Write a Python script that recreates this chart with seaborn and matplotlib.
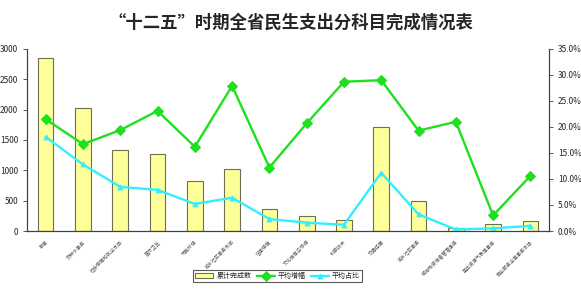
import numpy as np
import matplotlib
matplotlib.use("Agg")
import matplotlib.pyplot as plt
import seaborn as sns
from matplotlib.ticker import FuncFormatter, MultipleLocator

# 数据
categories = ["教育", "农林水事务", "社会保障和就业支出", "医疗卫生", "节能环保",
              "城乡社区事务支出", "住房保障", "文化体育与传媒", "科学技术",
              "交通运输", "城乡社区事务", "粮油物资储备管理事务",
              "国土资源气象等事务", "商业服务业等事务支出"]
completed = [2847, 2022, 1335, 1266, 830, 1022, 360, 248, 182, 1710, 495, 45, 110, 160]
avg_growth = [21.5, 16.7, 19.4, 23.1, 16.2, 27.9, 12.2, 20.7, 28.7, 29.0, 19.3, 21.0, 3.0, 10.6]
avg_share = [18.1, 12.8, 8.5, 7.9, 5.2, 6.4, 2.3, 1.6, 1.2, 11.2, 3.2, 0.3, 0.5, 1.0]

sns.set_style("white")
plt.rcParams["font.family"] = ["Noto Sans CJK SC", "DejaVu Sans"]

fig = plt.figure(figsize=(5.81, 2.93), dpi=100)
ax = fig.add_axes([0.0465, 0.2116, 0.8985, 0.6212])

x = np.arange(len(categories))
sns.barplot(x=x, y=completed, color="#FFFF99", edgecolor="#6E6E50", linewidth=0.8,
            width=0.42, saturation=1, ax=ax, label="累计完成数")
ax.set_ylim(0, 3000)
ax.set_xlim(-0.5, len(categories) - 0.5)
ax.yaxis.set_major_locator(MultipleLocator(500))
ax.set_xticks(x)
ax.set_xticklabels(categories, rotation=45, ha="right", rotation_mode="anchor",
                   fontsize=3.5, color="#555555")
ax.tick_params(axis="x", length=0, pad=6)
ax.set_xticks(np.arange(-0.5, len(categories), 1), minor=True)
ax.tick_params(axis="x", which="minor", length=3, width=0.6, color="#404040", direction="out")
ax.tick_params(axis="y", labelsize=6, length=3, width=0.6, color="#404040", direction="out", left=True)
ax.set_xlabel("")
ax.set_ylabel("")

ax2 = ax.twinx()
sns.lineplot(x=x, y=avg_growth, color="#1EE01E", marker="D", markersize=5,
             markeredgecolor="#1EE01E", linewidth=1.7, ax=ax2, label="平均增幅")
sns.lineplot(x=x, y=avg_share, color="#33EEFF", marker="^", markersize=3.5,
             markeredgecolor="#33EEFF", linewidth=1.7, ax=ax2, label="平均占比")
ax2.set_ylim(0, 35)
ax2.yaxis.set_major_locator(MultipleLocator(5))
ax2.yaxis.set_major_formatter(FuncFormatter(lambda v, p: f"{v:.1f}%"))
ax2.tick_params(axis="y", labelsize=6, length=3, width=0.6, color="#404040", direction="out", right=True)
ax2.set_ylabel("")

for a in (ax, ax2):
    a.spines["top"].set_visible(False)
    for s in ("left", "right", "bottom"):
        a.spines[s].set_color("#404040")
        a.spines[s].set_linewidth(0.8)
    a.grid(False)

h1, l1 = ax.get_legend_handles_labels()
h2, l2 = ax2.get_legend_handles_labels()
if ax.get_legend():
    ax.get_legend().remove()
ax2.get_legend().remove()
leg = fig.legend(h1 + h2, l1 + l2, loc="center", bbox_to_anchor=(0.478, 0.058), ncol=3,
                 fontsize=5, frameon=True, fancybox=False, handlelength=2.6,
                 columnspacing=0.8, handletextpad=0.4, borderpad=0.35)
leg.get_frame().set_edgecolor("#303030")
leg.get_frame().set_linewidth(0.8)

fig.suptitle("“十二五”时期全省民生支出分科目完成情况表", x=0.5, y=0.955,
             fontsize=12.5, fontweight="bold")

fig.savefig("out.png", dpi=100)
